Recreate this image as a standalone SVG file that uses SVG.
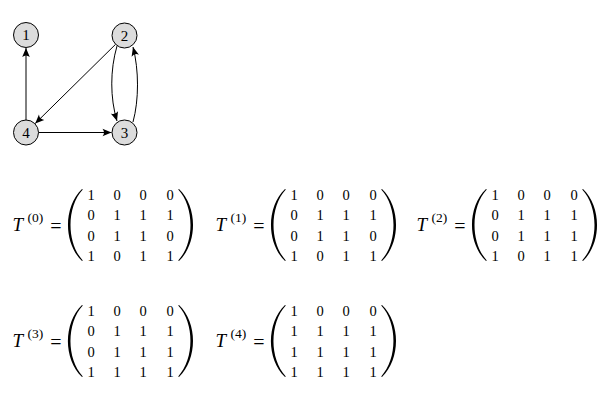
<svg xmlns="http://www.w3.org/2000/svg" xmlns:xlink="http://www.w3.org/1999/xlink" width="614" height="402" viewBox="0 0 614 402">
<style>
text{fill:#000}
.node circle{fill:#dcdcdc;stroke:#000;stroke-width:1}
.node text{font-family:"Liberation Serif","DejaVu Serif",serif;font-size:15px;text-anchor:middle}
.edge{fill:none;stroke:#000;stroke-width:1;marker-end:url(#arr)}
.t{font-family:"Liberation Serif","DejaVu Serif",serif;font-style:italic;font-size:19px}
.sup{font-family:"Liberation Serif","DejaVu Serif",serif;font-size:13.5px}
.eq{font-family:"Liberation Serif","DejaVu Serif",serif;font-size:20px;text-anchor:middle}
.m{font-family:"Liberation Serif","DejaVu Serif",serif;font-size:14.5px;text-anchor:middle}
</style>
<defs>
<marker id="arr" viewBox="-10 -5 11 10" refX="0" refY="0" markerWidth="11" markerHeight="10" markerUnits="userSpaceOnUse" orient="auto">
<path d="M0,0 L-9,-3.8 Q-6,0 -9,3.8 Z" fill="#000"/>
</marker>
<path id="lp" d="M14,0 C-4.7,18 -4.7,54 14,72 L14.8,71.4 C-1.6,54 -1.6,18 14.8,0.6 Z" fill="#000"/>
</defs>
<rect width="614" height="402" fill="#fff"/>
<g id="connectors">
<path class="edge" d="M26,120 L26,48"/>
<path class="edge" d="M115.6,44.3 L35.2,123.5"/>
<path class="edge" d="M38.5,132.5 L111.5,132.5"/>
<path class="edge" d="M117,46 C110,70 110,98 117,121"/>
<path class="edge" d="M133,122 C139,100 139,70 133,47"/>
</g>
<g id="node1" class="node"><circle cx="26" cy="35" r="12.5"/><text x="26" y="40">1</text></g>
<g id="node2" class="node"><circle cx="124.5" cy="35.5" r="12.5"/><text x="124.5" y="40.5">2</text></g>
<g id="node3" class="node"><circle cx="124.5" cy="132.5" r="12.5"/><text x="124.5" y="137.5">3</text></g>
<g id="node4" class="node"><circle cx="26" cy="132.5" r="12.5"/><text x="26" y="137.5">4</text></g>

<g id="T0" transform="translate(0,0)">
<text class="t" x="12.5" y="230.5">T</text><text class="sup" x="27.5" y="221.5">(0)</text>
<text class="eq" x="56" y="232.5">=</text>
<use xlink:href="#lp" transform="translate(68,189)"/>
<use xlink:href="#lp" transform="translate(193,189) scale(-1,1)"/>
<g class="m">
<text x="91" y="199.5">1</text><text x="117" y="199.5">0</text><text x="143" y="199.5">0</text><text x="170" y="199.5">0</text>
<text x="91" y="220">0</text><text x="117" y="220">1</text><text x="143" y="220">1</text><text x="170" y="220">1</text>
<text x="91" y="240.5">0</text><text x="117" y="240.5">1</text><text x="143" y="240.5">1</text><text x="170" y="240.5">0</text>
<text x="91" y="261">1</text><text x="117" y="261">0</text><text x="143" y="261">1</text><text x="170" y="261">1</text>
</g>
</g>

<g id="T1" transform="translate(203,0)">
<text class="t" x="12.5" y="230.5">T</text><text class="sup" x="27.5" y="221.5">(1)</text>
<text class="eq" x="56" y="232.5">=</text>
<use xlink:href="#lp" transform="translate(68,189)"/>
<use xlink:href="#lp" transform="translate(193,189) scale(-1,1)"/>
<g class="m">
<text x="91" y="199.5">1</text><text x="117" y="199.5">0</text><text x="143" y="199.5">0</text><text x="170" y="199.5">0</text>
<text x="91" y="220">0</text><text x="117" y="220">1</text><text x="143" y="220">1</text><text x="170" y="220">1</text>
<text x="91" y="240.5">0</text><text x="117" y="240.5">1</text><text x="143" y="240.5">1</text><text x="170" y="240.5">0</text>
<text x="91" y="261">1</text><text x="117" y="261">0</text><text x="143" y="261">1</text><text x="170" y="261">1</text>
</g>
</g>

<g id="T2" transform="translate(404,0)">
<text class="t" x="12.5" y="230.5">T</text><text class="sup" x="27.5" y="221.5">(2)</text>
<text class="eq" x="56" y="232.5">=</text>
<use xlink:href="#lp" transform="translate(68,189)"/>
<use xlink:href="#lp" transform="translate(193,189) scale(-1,1)"/>
<g class="m">
<text x="91" y="199.5">1</text><text x="117" y="199.5">0</text><text x="143" y="199.5">0</text><text x="170" y="199.5">0</text>
<text x="91" y="220">0</text><text x="117" y="220">1</text><text x="143" y="220">1</text><text x="170" y="220">1</text>
<text x="91" y="240.5">0</text><text x="117" y="240.5">1</text><text x="143" y="240.5">1</text><text x="170" y="240.5">1</text>
<text x="91" y="261">1</text><text x="117" y="261">0</text><text x="143" y="261">1</text><text x="170" y="261">1</text>
</g>
</g>

<g id="T3" transform="translate(0,116)">
<text class="t" x="12.5" y="230.5">T</text><text class="sup" x="27.5" y="221.5">(3)</text>
<text class="eq" x="56" y="232.5">=</text>
<use xlink:href="#lp" transform="translate(68,189)"/>
<use xlink:href="#lp" transform="translate(193,189) scale(-1,1)"/>
<g class="m">
<text x="91" y="199.5">1</text><text x="117" y="199.5">0</text><text x="143" y="199.5">0</text><text x="170" y="199.5">0</text>
<text x="91" y="220">0</text><text x="117" y="220">1</text><text x="143" y="220">1</text><text x="170" y="220">1</text>
<text x="91" y="240.5">0</text><text x="117" y="240.5">1</text><text x="143" y="240.5">1</text><text x="170" y="240.5">1</text>
<text x="91" y="261">1</text><text x="117" y="261">1</text><text x="143" y="261">1</text><text x="170" y="261">1</text>
</g>
</g>

<g id="T4" transform="translate(203,116)">
<text class="t" x="12.5" y="230.5">T</text><text class="sup" x="27.5" y="221.5">(4)</text>
<text class="eq" x="56" y="232.5">=</text>
<use xlink:href="#lp" transform="translate(68,189)"/>
<use xlink:href="#lp" transform="translate(193,189) scale(-1,1)"/>
<g class="m">
<text x="91" y="199.5">1</text><text x="117" y="199.5">0</text><text x="143" y="199.5">0</text><text x="170" y="199.5">0</text>
<text x="91" y="220">1</text><text x="117" y="220">1</text><text x="143" y="220">1</text><text x="170" y="220">1</text>
<text x="91" y="240.5">1</text><text x="117" y="240.5">1</text><text x="143" y="240.5">1</text><text x="170" y="240.5">1</text>
<text x="91" y="261">1</text><text x="117" y="261">1</text><text x="143" y="261">1</text><text x="170" y="261">1</text>
</g>
</g>
</svg>
